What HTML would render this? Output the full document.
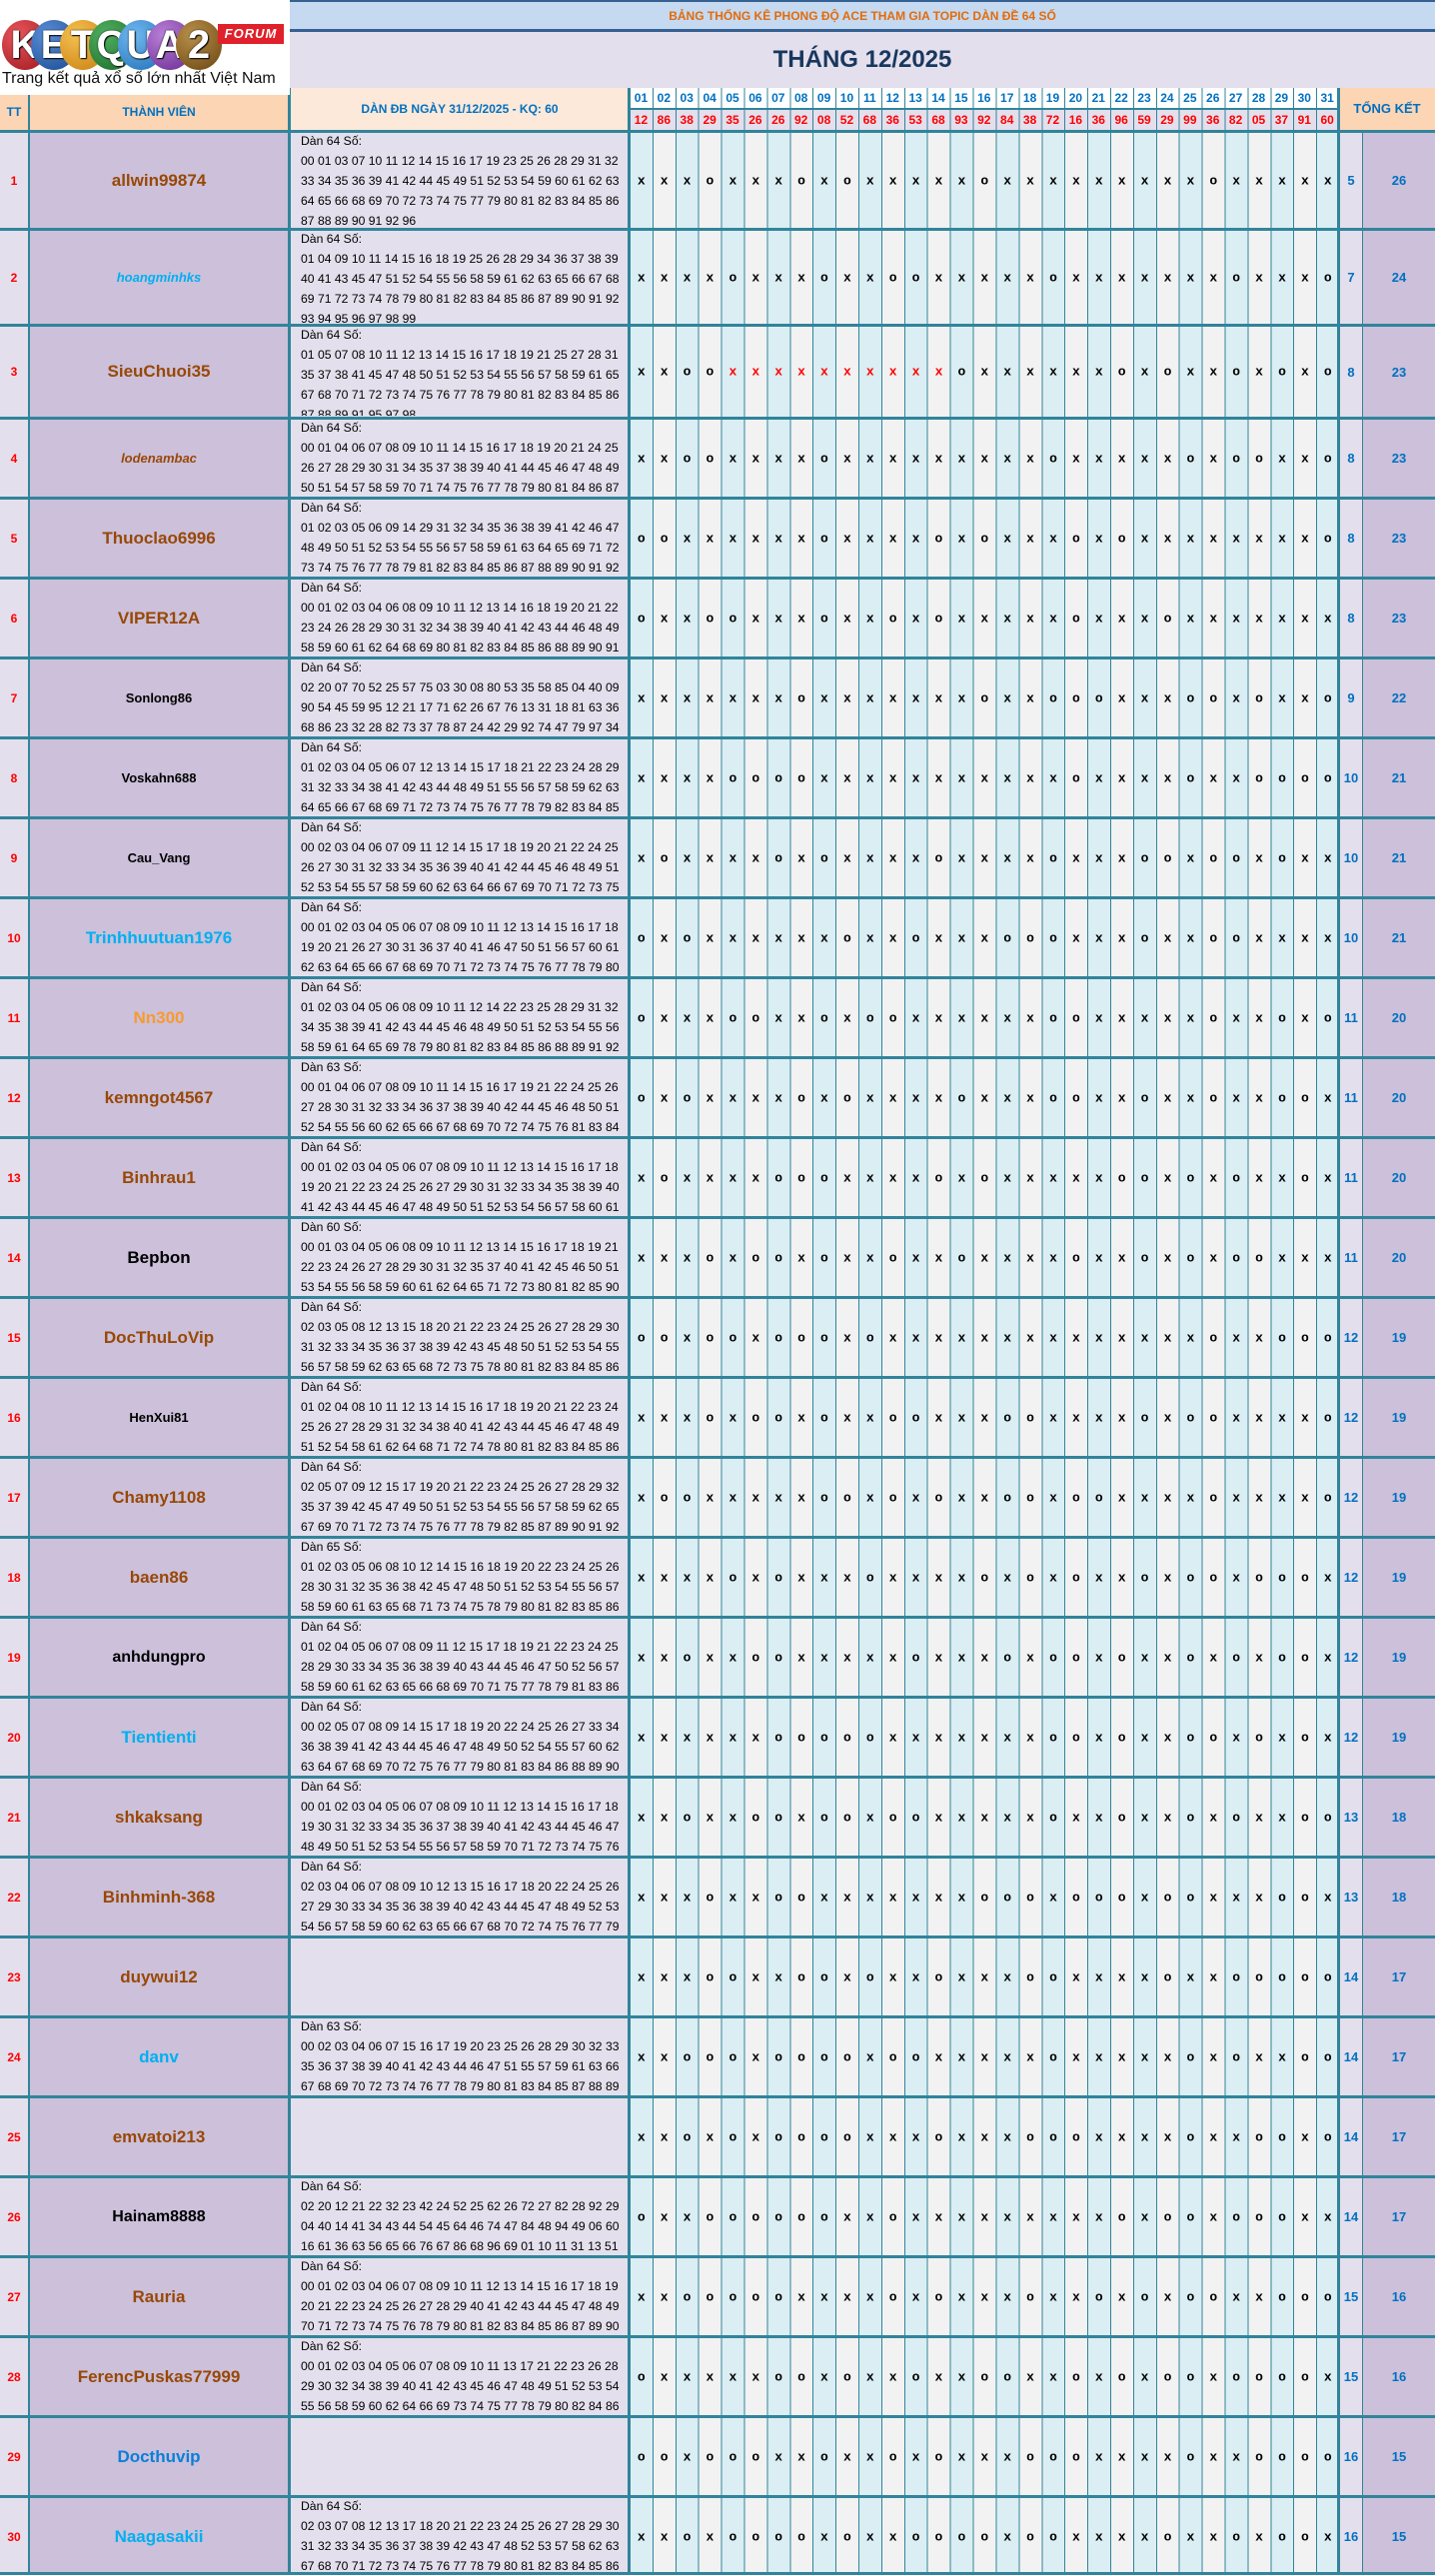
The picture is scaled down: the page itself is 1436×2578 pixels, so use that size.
<!DOCTYPE html>
<html><head><meta charset="utf-8">
<style>
*{margin:0;padding:0}
body{width:1436px;height:2577px;position:relative;overflow:hidden;background:#fff;font-family:"Liberation Sans",sans-serif}
.a{position:absolute}
.r{position:absolute;left:0;width:1436px;border-top:3px solid #31849b;box-sizing:border-box}
.r>div{position:absolute;top:0;bottom:0;display:flex;align-items:center;justify-content:center}
.t{left:0;width:28px;color:#ff0000;font-weight:bold;font-size:12px}
.n{left:30px;width:258px;font-weight:bold;font-size:17px;color:#984807}
.n.sm{font-size:13px;color:#000}
.n.it{font-size:13px;font-style:italic}
.lb{color:#00b0f0}.bk{color:#000}.or{color:#f79a30}.db{color:#0a7fd8}.br{color:#984807}
.r>.d{display:block;left:301px;top:-2px;bottom:auto;font-size:12.2px;line-height:20px;white-space:pre;color:#000;justify-content:flex-start}
.r>.g{display:block;left:637.85px;top:50%;bottom:auto;transform:translateY(-50%);font:bold 13px "Liberation Mono",monospace;letter-spacing:15.1px;white-space:pre;color:#000}
.g b{color:#ff0000}
.s1{left:1341px;width:22px;color:#0070c0;font-size:13px;font-weight:bold}
.s2{left:1364px;width:72px;color:#0070c0;font-size:13px;font-weight:bold}
.hr{position:absolute;left:630px;width:710px;display:flex}
.hr div{width:22.903px;text-align:center;font-weight:bold;font-size:12px}
.circ{position:absolute;top:20px;width:46px;height:50px;border-radius:50%;color:#fff;font:bold 40px/50px "Liberation Sans",sans-serif;text-align:center;text-shadow:0 0 2px #222,1px 1px 1px #000}
</style></head><body>
<div class="a" style="left:0;top:130px;width:28px;height:2447px;background:#e4dfec"></div>
<div class="a" style="left:28px;top:130px;width:262px;height:2447px;background:#ccc0da"></div>
<div class="a" style="left:290px;top:130px;width:340px;height:2447px;background:#e4dfec"></div>
<div class="a" style="left:630px;top:130px;width:710px;height:2447px;background:repeating-linear-gradient(90deg,#daeef3 0 22.903px,#f2f2f2 22.903px 45.806px)"></div>
<div class="a" style="left:1340px;top:130px;width:23px;height:2447px;background:#e4dfec"></div>
<div class="a" style="left:1363px;top:130px;width:73px;height:2447px;background:#ccc0da"></div>
<div class="a" style="left:290px;top:0;width:1146px;height:30px;background:#c5d9f1;border-top:2px solid #366092;box-sizing:border-box;color:#e26b0a;font-weight:bold;font-size:12px;text-align:center;line-height:28px">BẢNG THỐNG KÊ PHONG ĐỘ ACE THAM GIA TOPIC DÀN ĐỀ 64 SỐ</div>
<div class="a" style="left:290px;top:29px;width:1146px;height:3px;background:#366092"></div>
<div class="a" style="left:290px;top:32px;width:1146px;height:56px;background:#e4dfec;color:#17375e;font-weight:bold;font-size:24px;text-align:center;line-height:56px">THÁNG 12/2025</div>
<div class="a" style="left:0;top:95px;width:28px;height:35px;background:#fcd5b4;color:#0070c0;font-weight:bold;font-size:12px;text-align:center;line-height:35px">TT</div>
<div class="a" style="left:28px;top:95px;width:262px;height:35px;background:#fcd5b4;color:#0070c0;font-weight:bold;font-size:12px;text-align:center;line-height:35px">THÀNH VIÊN</div>
<div class="a" style="left:290px;top:88px;width:340px;height:42px;background:#fde9d9;color:#0070c0;font-weight:bold;font-size:12px;text-align:center;line-height:42px">DÀN ĐB NGÀY 31/12/2025 - KQ: 60</div>
<div class="a" style="left:1340px;top:88px;width:96px;height:42px;background:#fcd5b4;color:#0070c0;font-weight:bold;font-size:13px;text-align:center;line-height:42px">TỔNG KẾT</div>
<div class="hr" style="top:88px;height:20px;line-height:20px;background:#fff;color:#0070c0"><div>01</div><div>02</div><div>03</div><div>04</div><div>05</div><div>06</div><div>07</div><div>08</div><div>09</div><div>10</div><div>11</div><div>12</div><div>13</div><div>14</div><div>15</div><div>16</div><div>17</div><div>18</div><div>19</div><div>20</div><div>21</div><div>22</div><div>23</div><div>24</div><div>25</div><div>26</div><div>27</div><div>28</div><div>29</div><div>30</div><div>31</div></div>
<div class="a" style="left:630px;top:108px;width:710px;height:2px;background:#31849b"></div>
<div class="hr" style="top:110px;height:20px;line-height:20px;background:#e4dfec;color:#ff0000"><div>12</div><div>86</div><div>38</div><div>29</div><div>35</div><div>26</div><div>26</div><div>92</div><div>08</div><div>52</div><div>68</div><div>36</div><div>53</div><div>68</div><div>93</div><div>92</div><div>84</div><div>38</div><div>72</div><div>16</div><div>36</div><div>96</div><div>59</div><div>29</div><div>99</div><div>36</div><div>82</div><div>05</div><div>37</div><div>91</div><div>60</div></div>
<div class="a" style="left:630px;top:88px;width:710px;height:2489px;background:repeating-linear-gradient(90deg,#31849b 0 1px,transparent 1px 22.903px)"></div>
<div class="a" style="left:28px;top:95px;width:2px;height:2482px;background:#31849b"></div>
<div class="a" style="left:288px;top:88px;width:3px;height:2489px;background:#31849b"></div>
<div class="a" style="left:628px;top:88px;width:3px;height:2489px;background:#31849b"></div>
<div class="a" style="left:1338px;top:88px;width:3px;height:2489px;background:#31849b"></div>
<div class="a" style="left:1363px;top:130px;width:1px;height:2447px;background:#31849b"></div>
<div class="a" style="left:0;top:2574px;width:1436px;height:3px;background:#31849b"></div>
<div class="a" style="left:0;top:0;width:290px;height:95px;background:#fff"></div>
<div class="circ" style="left:2px;background:radial-gradient(circle at 35% 30%,#e8555a,#a01820)">K</div>
<div class="circ" style="left:31px;background:radial-gradient(circle at 35% 30%,#5a8ed8,#1a4a90)">E</div>
<div class="circ" style="left:60px;background:radial-gradient(circle at 35% 30%,#f5c050,#c88010)">T</div>
<div class="circ" style="left:89px;background:radial-gradient(circle at 35% 30%,#50b060,#1a6a28)">Q</div>
<div class="circ" style="left:118px;background:radial-gradient(circle at 35% 30%,#70b8f0,#2070b8)">U</div>
<div class="circ" style="left:147px;background:radial-gradient(circle at 35% 30%,#b880d8,#6a2a90)">A</div>
<div class="circ" style="left:176px;background:radial-gradient(circle at 35% 30%,#b8904a,#6a4410)">2</div>
<div class="a" style="left:218px;top:24px;width:66px;height:20px;background:#e0202a;color:#fff;font:italic bold 13px/20px 'Liberation Sans',sans-serif;text-align:center;letter-spacing:1px">FORUM</div>
<div class="a" style="left:2px;top:70px;width:288px;font-size:16px;color:#111;white-space:nowrap">Trang kết quả xổ số lớn nhất Việt Nam</div>

<div class="r" style="top:130px;height:98px"><div class="t">1</div><div class="n">allwin99874</div><div class="d">Dàn 64 Số:
00 01 03 07 10 11 12 14 15 16 17 19 23 25 26 28 29 31 32
33 34 35 36 39 41 42 44 45 49 51 52 53 54 59 60 61 62 63
64 65 66 68 69 70 72 73 74 75 77 79 80 81 82 83 84 85 86
87 88 89 90 91 92 96</div><div class="g">xxxoxxxoxoxxxxxoxxxxxxxxxoxxxxx</div><div class="s1">5</div><div class="s2">26</div></div>
<div class="r" style="top:228px;height:96px"><div class="t">2</div><div class="n it lb">hoangminhks</div><div class="d">Dàn 64 Số:
01 04 09 10 11 14 15 16 18 19 25 26 28 29 34 36 37 38 39
40 41 43 45 47 51 52 54 55 56 58 59 61 62 63 65 66 67 68
69 71 72 73 74 78 79 80 81 82 83 84 85 86 87 89 90 91 92
93 94 95 96 97 98 99</div><div class="g">xxxxoxxxoxxooxxxxxoxxxxxxxoxxxo</div><div class="s1">7</div><div class="s2">24</div></div>
<div class="r" style="top:324px;height:93px"><div class="t">3</div><div class="n">SieuChuoi35</div><div class="d" style="height:91px;overflow:hidden">Dàn 64 Số:
01 05 07 08 10 11 12 13 14 15 16 17 18 19 21 25 27 28 31
35 37 38 41 45 47 48 50 51 52 53 54 55 56 57 58 59 61 65
67 68 70 71 72 73 74 75 76 77 78 79 80 81 82 83 84 85 86
87 88 89 91 95 97 98</div><div class="g">xxoo<b>xxxxxxxxxx</b>oxxxxxxoxoxxoxoxo</div><div class="s1">8</div><div class="s2">23</div></div>
<div class="r" style="top:417px;height:80px"><div class="t">4</div><div class="n it">lodenambac</div><div class="d">Dàn 64 Số:
00 01 04 06 07 08 09 10 11 14 15 16 17 18 19 20 21 24 25
26 27 28 29 30 31 34 35 37 38 39 40 41 44 45 46 47 48 49
50 51 54 57 58 59 70 71 74 75 76 77 78 79 80 81 84 86 87</div><div class="g">xxooxxxxoxxxxxxxxxoxxxxxoxooxxo</div><div class="s1">8</div><div class="s2">23</div></div>
<div class="r" style="top:497px;height:80px"><div class="t">5</div><div class="n">Thuoclao6996</div><div class="d">Dàn 64 Số:
01 02 03 05 06 09 14 29 31 32 34 35 36 38 39 41 42 46 47
48 49 50 51 52 53 54 55 56 57 58 59 61 63 64 65 69 71 72
73 74 75 76 77 78 79 81 82 83 84 85 86 87 88 89 90 91 92</div><div class="g">ooxxxxxxoxxxxoxoxxxoxoxxxxxxxxo</div><div class="s1">8</div><div class="s2">23</div></div>
<div class="r" style="top:577px;height:80px"><div class="t">6</div><div class="n">VIPER12A</div><div class="d">Dàn 64 Số:
00 01 02 03 04 06 08 09 10 11 12 13 14 16 18 19 20 21 22
23 24 26 28 29 30 31 32 34 38 39 40 41 42 43 44 46 48 49
58 59 60 61 62 64 68 69 80 81 82 83 84 85 86 88 89 90 91</div><div class="g">oxxooxxxoxxoxoxxxxxoxxxoxxxxxxx</div><div class="s1">8</div><div class="s2">23</div></div>
<div class="r" style="top:657px;height:80px"><div class="t">7</div><div class="n sm">Sonlong86</div><div class="d">Dàn 64 Số:
02 20 07 70 52 25 57 75 03 30 08 80 53 35 58 85 04 40 09
90 54 45 59 95 12 21 17 71 62 26 67 76 13 31 18 81 63 36
68 86 23 32 28 82 73 37 78 87 24 42 29 92 74 47 79 97 34</div><div class="g">xxxxxxxoxxxxxxxoxxoooxxxooxoxxo</div><div class="s1">9</div><div class="s2">22</div></div>
<div class="r" style="top:737px;height:80px"><div class="t">8</div><div class="n sm">Voskahn688</div><div class="d">Dàn 64 Số:
01 02 03 04 05 06 07 12 13 14 15 17 18 21 22 23 24 28 29
31 32 33 34 38 41 42 43 44 48 49 51 55 56 57 58 59 62 63
64 65 66 67 68 69 71 72 73 74 75 76 77 78 79 82 83 84 85</div><div class="g">xxxxooooxxxxxxxxxxxoxxxxoxxoooo</div><div class="s1">10</div><div class="s2">21</div></div>
<div class="r" style="top:817px;height:80px"><div class="t">9</div><div class="n sm br">Cau_Vang</div><div class="d">Dàn 64 Số:
00 02 03 04 06 07 09 11 12 14 15 17 18 19 20 21 22 24 25
26 27 30 31 32 33 34 35 36 39 40 41 42 44 45 46 48 49 51
52 53 54 55 57 58 59 60 62 63 64 66 67 69 70 71 72 73 75</div><div class="g">xoxxxxoxoxxxxoxxxxoxxxooxooxoxx</div><div class="s1">10</div><div class="s2">21</div></div>
<div class="r" style="top:897px;height:80px"><div class="t">10</div><div class="n lb">Trinhhuutuan1976</div><div class="d">Dàn 64 Số:
00 01 02 03 04 05 06 07 08 09 10 11 12 13 14 15 16 17 18
19 20 21 26 27 30 31 36 37 40 41 46 47 50 51 56 57 60 61
62 63 64 65 66 67 68 69 70 71 72 73 74 75 76 77 78 79 80</div><div class="g">oxoxxxxxxoxxoxxxoooxxxoxxooxxxx</div><div class="s1">10</div><div class="s2">21</div></div>
<div class="r" style="top:977px;height:80px"><div class="t">11</div><div class="n or">Nn300</div><div class="d">Dàn 64 Số:
01 02 03 04 05 06 08 09 10 11 12 14 22 23 25 28 29 31 32
34 35 38 39 41 42 43 44 45 46 48 49 50 51 52 53 54 55 56
58 59 61 64 65 69 78 79 80 81 82 83 84 85 86 88 89 91 92</div><div class="g">oxxxooxxoxooxxxxxxooxxxxxoxxoxo</div><div class="s1">11</div><div class="s2">20</div></div>
<div class="r" style="top:1057px;height:80px"><div class="t">12</div><div class="n">kemngot4567</div><div class="d">Dàn 63 Số:
00 01 04 06 07 08 09 10 11 14 15 16 17 19 21 22 24 25 26
27 28 30 31 32 33 34 36 37 38 39 40 42 44 45 46 48 50 51
52 54 55 56 60 62 65 66 67 68 69 70 72 74 75 76 81 83 84</div><div class="g">oxoxxxxoxoxxxxoxxxooxxoxxoxxoox</div><div class="s1">11</div><div class="s2">20</div></div>
<div class="r" style="top:1137px;height:80px"><div class="t">13</div><div class="n">Binhrau1</div><div class="d">Dàn 64 Số:
00 01 02 03 04 05 06 07 08 09 10 11 12 13 14 15 16 17 18
19 20 21 22 23 24 25 26 27 29 30 31 32 33 34 35 38 39 40
41 42 43 44 45 46 47 48 49 50 51 52 53 54 56 57 58 60 61</div><div class="g">xoxxxxoooxxxxoxoxxxxxooxoxoxxox</div><div class="s1">11</div><div class="s2">20</div></div>
<div class="r" style="top:1217px;height:80px"><div class="t">14</div><div class="n bk">Bepbon</div><div class="d">Dàn 60 Số:
00 01 03 04 05 06 08 09 10 11 12 13 14 15 16 17 18 19 21
22 23 24 26 27 28 29 30 31 32 35 37 40 41 42 45 46 50 51
53 54 55 56 58 59 60 61 62 64 65 71 72 73 80 81 82 85 90</div><div class="g">xxxoxooxoxxoxxoxxxxoxxoxoxooxxx</div><div class="s1">11</div><div class="s2">20</div></div>
<div class="r" style="top:1297px;height:80px"><div class="t">15</div><div class="n">DocThuLoVip</div><div class="d">Dàn 64 Số:
02 03 05 08 12 13 15 18 20 21 22 23 24 25 26 27 28 29 30
31 32 33 34 35 36 37 38 39 42 43 45 48 50 51 52 53 54 55
56 57 58 59 62 63 65 68 72 73 75 78 80 81 82 83 84 85 86</div><div class="g">ooxooxoooxoxxxxxxxxxxxxxxoxxooo</div><div class="s1">12</div><div class="s2">19</div></div>
<div class="r" style="top:1377px;height:80px"><div class="t">16</div><div class="n sm">HenXui81</div><div class="d">Dàn 64 Số:
01 02 04 08 10 11 12 13 14 15 16 17 18 19 20 21 22 23 24
25 26 27 28 29 31 32 34 38 40 41 42 43 44 45 46 47 48 49
51 52 54 58 61 62 64 68 71 72 74 78 80 81 82 83 84 85 86</div><div class="g">xxxoxooxoxxooxxxooxxxxoxooxxxxo</div><div class="s1">12</div><div class="s2">19</div></div>
<div class="r" style="top:1457px;height:80px"><div class="t">17</div><div class="n">Chamy1108</div><div class="d">Dàn 64 Số:
02 05 07 09 12 15 17 19 20 21 22 23 24 25 26 27 28 29 32
35 37 39 42 45 47 49 50 51 52 53 54 55 56 57 58 59 62 65
67 69 70 71 72 73 74 75 76 77 78 79 82 85 87 89 90 91 92</div><div class="g">xooxxxxxooxoxoxxooxooxxxxoxxxxo</div><div class="s1">12</div><div class="s2">19</div></div>
<div class="r" style="top:1537px;height:80px"><div class="t">18</div><div class="n">baen86</div><div class="d">Dàn 65 Số:
01 02 03 05 06 08 10 12 14 15 16 18 19 20 22 23 24 25 26
28 30 31 32 35 36 38 42 45 47 48 50 51 52 53 54 55 56 57
58 59 60 61 63 65 68 71 73 74 75 78 79 80 81 82 83 85 86</div><div class="g">xxxxoxoxxxoxxxxoxoxoxxoxooxooox</div><div class="s1">12</div><div class="s2">19</div></div>
<div class="r" style="top:1617px;height:80px"><div class="t">19</div><div class="n bk" style="font-size:16px">anhdungpro</div><div class="d">Dàn 64 Số:
01 02 04 05 06 07 08 09 11 12 15 17 18 19 21 22 23 24 25
28 29 30 33 34 35 36 38 39 40 43 44 45 46 47 50 52 56 57
58 59 60 61 62 63 65 66 68 69 70 71 75 77 78 79 81 83 86</div><div class="g">xxoxxooxxxxxoxxxoxooxoxxoxoxoox</div><div class="s1">12</div><div class="s2">19</div></div>
<div class="r" style="top:1697px;height:80px"><div class="t">20</div><div class="n lb">Tientienti</div><div class="d">Dàn 64 Số:
00 02 05 07 08 09 14 15 17 18 19 20 22 24 25 26 27 33 34
36 38 39 41 42 43 44 45 46 47 48 49 50 52 54 55 57 60 62
63 64 67 68 69 70 72 75 76 77 79 80 81 83 84 86 88 89 90</div><div class="g">xxxxxxoooooxxxxxxxooxoxxooxoxox</div><div class="s1">12</div><div class="s2">19</div></div>
<div class="r" style="top:1777px;height:80px"><div class="t">21</div><div class="n">shkaksang</div><div class="d">Dàn 64 Số:
00 01 02 03 04 05 06 07 08 09 10 11 12 13 14 15 16 17 18
19 30 31 32 33 34 35 36 37 38 39 40 41 42 43 44 45 46 47
48 49 50 51 52 53 54 55 56 57 58 59 70 71 72 73 74 75 76</div><div class="g">xxoxxooxooxooxxxxxoxxoxxoxoxxoo</div><div class="s1">13</div><div class="s2">18</div></div>
<div class="r" style="top:1857px;height:80px"><div class="t">22</div><div class="n">Binhminh-368</div><div class="d">Dàn 64 Số:
02 03 04 06 07 08 09 10 12 13 15 16 17 18 20 22 24 25 26
27 29 30 33 34 35 36 38 39 40 42 43 44 45 47 48 49 52 53
54 56 57 58 59 60 62 63 65 66 67 68 70 72 74 75 76 77 79</div><div class="g">xxxoxxooxxxxxxxoooxoooxooxxxoox</div><div class="s1">13</div><div class="s2">18</div></div>
<div class="r" style="top:1937px;height:80px"><div class="t">23</div><div class="n">duywui12</div><div class="g">xxxooxxooxoxxoxxxooxxxxoxxooooo</div><div class="s1">14</div><div class="s2">17</div></div>
<div class="r" style="top:2017px;height:80px"><div class="t">24</div><div class="n lb">danv</div><div class="d">Dàn 63 Số:
00 02 03 04 06 07 15 16 17 19 20 23 25 26 28 29 30 32 33
35 36 37 38 39 40 41 42 43 44 46 47 51 55 57 59 61 63 66
67 68 69 70 72 73 74 76 77 78 79 80 81 83 84 85 87 88 89</div><div class="g">xxoooxooooxooxxxxxoxxxxxoxoxxoo</div><div class="s1">14</div><div class="s2">17</div></div>
<div class="r" style="top:2097px;height:80px"><div class="t">25</div><div class="n">emvatoi213</div><div class="g">xxoxoxooooxxxoxxxoooxxxxoxxooxo</div><div class="s1">14</div><div class="s2">17</div></div>
<div class="r" style="top:2177px;height:80px"><div class="t">26</div><div class="n bk" style="font-size:16px">Hainam8888</div><div class="d">Dàn 64 Số:
02 20 12 21 22 32 23 42 24 52 25 62 26 72 27 82 28 92 29
04 40 14 41 34 43 44 54 45 64 46 74 47 84 48 94 49 06 60
16 61 36 63 56 65 66 76 67 86 68 96 69 01 10 11 31 13 51</div><div class="g">oxxooooooxxoxxxxxxxxxoxooxoooxx</div><div class="s1">14</div><div class="s2">17</div></div>
<div class="r" style="top:2257px;height:80px"><div class="t">27</div><div class="n">Rauria</div><div class="d">Dàn 64 Số:
00 01 02 03 04 06 07 08 09 10 11 12 13 14 15 16 17 18 19
20 21 22 23 24 25 26 27 28 29 40 41 42 43 44 45 47 48 49
70 71 72 73 74 75 76 78 79 80 81 82 83 84 85 86 87 89 90</div><div class="g">xxoooooxxxxoxoxxxoxxoxoxooxxooo</div><div class="s1">15</div><div class="s2">16</div></div>
<div class="r" style="top:2337px;height:80px"><div class="t">28</div><div class="n">FerencPuskas77999</div><div class="d">Dàn 62 Số:
00 01 02 03 04 05 06 07 08 09 10 11 13 17 21 22 23 26 28
29 30 32 34 38 39 40 41 42 43 45 46 47 48 49 51 52 53 54
55 56 58 59 60 62 64 66 69 73 74 75 77 78 79 80 82 84 86</div><div class="g">oxxxxxooxoxxoxxooxxoxoxooxoooox</div><div class="s1">15</div><div class="s2">16</div></div>
<div class="r" style="top:2417px;height:80px"><div class="t">29</div><div class="n db">Docthuvip</div><div class="g">ooxoooxxoxxoxoxxxoooxxxxoxxoooo</div><div class="s1">16</div><div class="s2">15</div></div>
<div class="r" style="top:2497px;height:80px"><div class="t">30</div><div class="n lb">Naagasakii</div><div class="d">Dàn 64 Số:
02 03 07 08 12 13 17 18 20 21 22 23 24 25 26 27 28 29 30
31 32 33 34 35 36 37 38 39 42 43 47 48 52 53 57 58 62 63
67 68 70 71 72 73 74 75 76 77 78 79 80 81 82 83 84 85 86</div><div class="g">xxoxooooxoxxooooxooxxxxoxxoxoox</div><div class="s1">16</div><div class="s2">15</div></div>
</body></html>
